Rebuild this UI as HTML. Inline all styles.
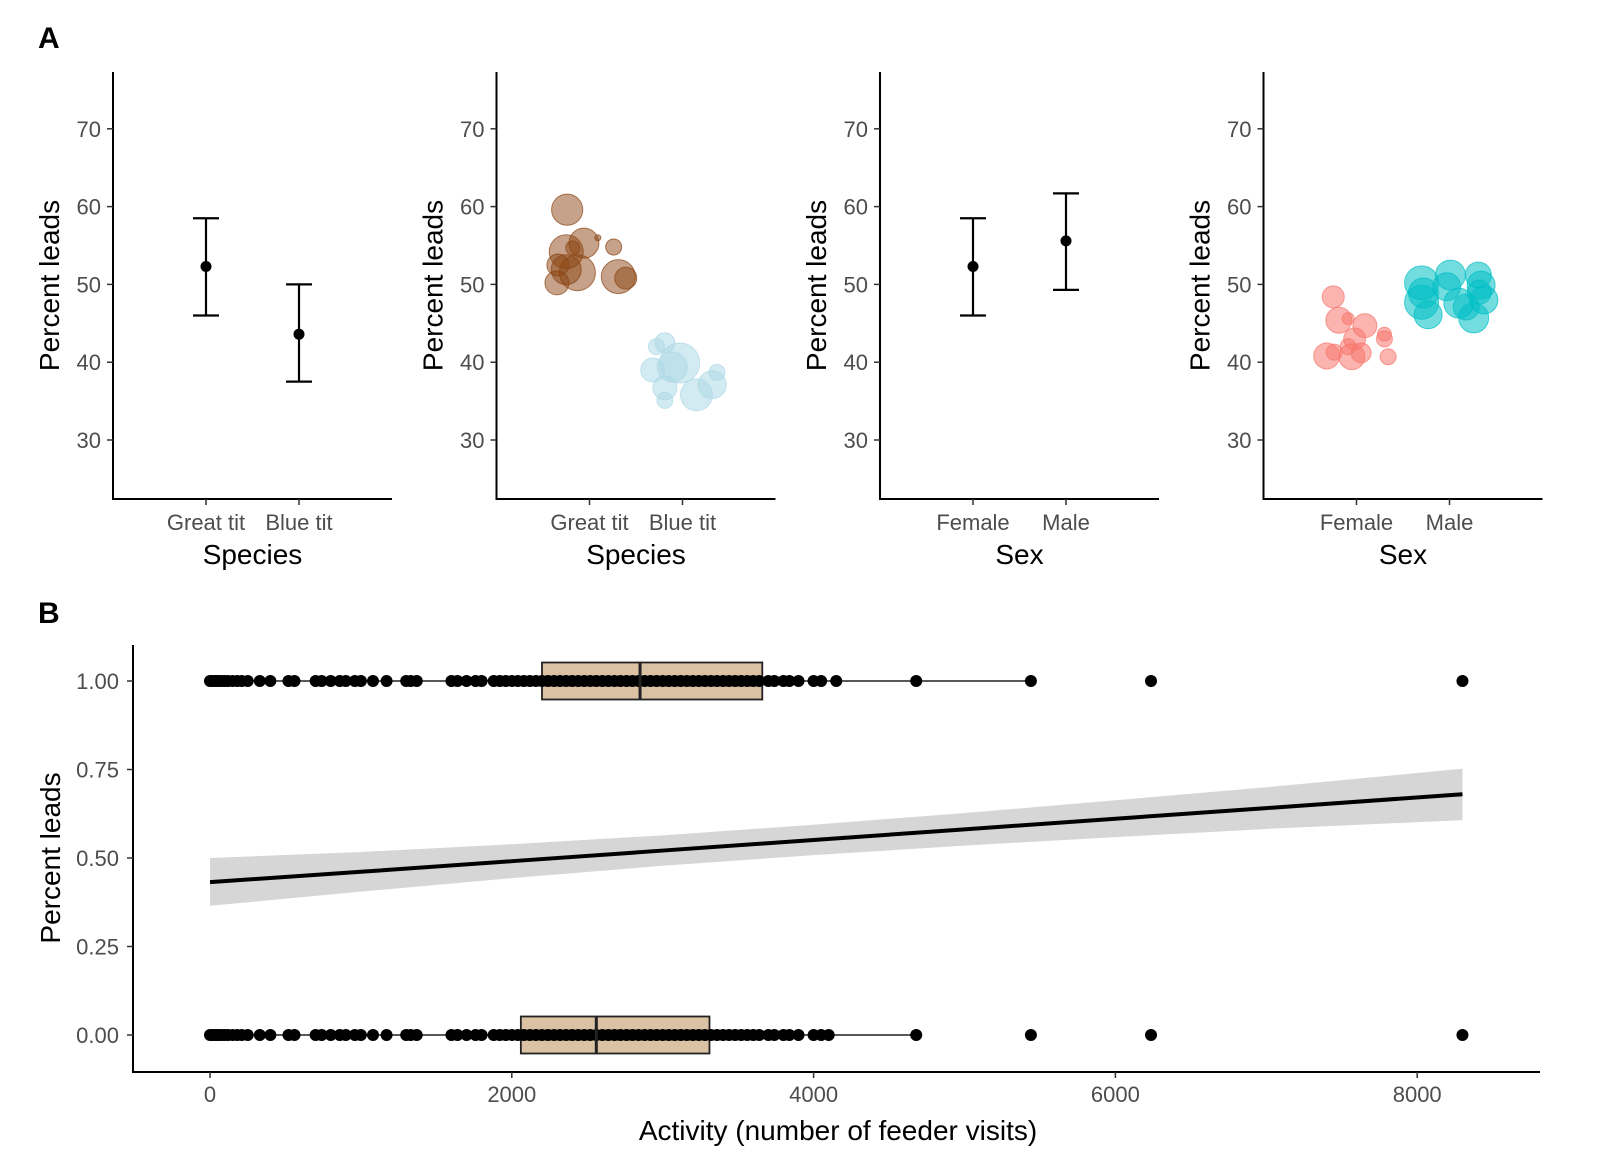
<!DOCTYPE html>
<html><head><meta charset="utf-8"><style>
body{margin:0;background:#fff}
svg{display:block;font-family:"Liberation Sans",sans-serif}
</style></head><body>
<svg id="c" width="1598" height="1166" viewBox="0 0 1598 1166">
<text x="38" y="48" font-size="30" font-weight="bold">A</text>
<text x="38" y="623" font-size="30" font-weight="bold">B</text>
</svg>
<script>
// ---- Panel A data ----
const aTicks = [30,40,50,60,70];
const p1Cats = ["Great tit","Blue tit"];
const p1Mean = [52.3,43.6];
const p1Lo = [46.0,37.5];
const p1Hi = [58.5,50.0];
const p3Cats = ["Female","Male"];
const p3Mean = [52.3,55.6];
const p3Lo = [46.0,49.3];
const p3Hi = [58.5,61.7];
const gtY = [59.6,54.2,55.3,56.0,54.8,51.0,50.8,50.2,52.5,51.5,51.9,54.7];
const gtJ = [-0.24,-0.25,-0.06,0.09,0.26,0.31,0.39,-0.35,-0.34,-0.13,-0.25,-0.18];
const gtS = [15.6,17,15,3,8,17,11,12,11,18,15,7];
const btY = [42.5,39.9,39.0,36.7,35.1,35.8,37.1,38.7,39.4,42.0];
const btJ = [-0.19,-0.03,-0.32,-0.19,-0.19,0.15,0.32,0.37,-0.11,-0.28];
const btS = [10,20,12,12,8,16,14,8,15,8];
const fY = [48.4,45.4,45.6,44.7,43.0,43.6,43.0,40.7,40.8,41.3,40.7,41.2,42.0];
const fJ = [-0.25,-0.19,-0.09,0.09,-0.02,0.30,0.30,0.34,-0.32,-0.24,-0.05,0.05,-0.09];
const fS = [11,13,6,12,11,7,8,8,13,8,13,10,8];
const mY = [50.2,51.2,51.2,49.9,48.9,47.7,46.1,49.7,47.6,45.7,47.1,48.0,49.0];
const mJ = [-0.30,0.01,0.31,0.34,-0.28,-0.30,-0.23,-0.03,0.10,0.26,0.18,0.37,0.32];
const mS = [17,15,13,14,15,17,14,14,15,15,13,14,12];
// ---- Panel B data ----
const bXTicks = [0,2000,4000,6000,8000];
const bYTicks = [0,0.25,0.5,0.75,1];
const bYLabels = ["0.00","0.25","0.50","0.75","1.00"];
const lead1 = [0,15,30,45,60,80,100,120,150,180,210,250,330,400,520,560,700,740,800,860,900,960,1000,1080,1170,1300,1330,1370,1600,1640,1700,1760,1800,1880,1920,1960,2000,2040,2080,2120,2160,2200,2240,2280,2320,2360,2400,2440,2480,2520,2560,2600,2640,2680,2720,2760,2800,2840,2880,2920,2960,3000,3040,3080,3120,3160,3200,3240,3280,3320,3360,3400,3440,3480,3520,3560,3600,3640,3700,3740,3800,3840,3900,4000,4050,4150,4680,5440,6236,8300];
const box1 = [5440,2200,2850,3660,5440];
const lead0 = [0,15,30,45,60,80,100,120,150,180,210,250,330,400,520,560,700,740,800,860,900,960,1000,1080,1170,1300,1330,1370,1600,1640,1700,1760,1800,1880,1920,1960,2000,2040,2080,2120,2160,2200,2240,2280,2320,2360,2400,2440,2480,2520,2560,2600,2640,2680,2720,2760,2800,2840,2880,2920,2960,3000,3040,3080,3120,3160,3200,3240,3280,3320,3360,3400,3440,3480,3520,3560,3600,3640,3700,3740,3800,3840,3900,4000,4050,4100,4680,5440,6236,8300];
const box0 = [4680,2060,2560,3310,4680];
const fitX = [0,1000,2000,3000,4000,5000,6000,7000,8300];
const fitY = [0.432,0.461,0.491,0.521,0.551,0.581,0.611,0.641,0.680];
const fitLo = [0.365,0.405,0.443,0.478,0.508,0.535,0.559,0.582,0.607];
const fitHi = [0.500,0.517,0.539,0.564,0.594,0.627,0.663,0.700,0.752];

const NS="http://www.w3.org/2000/svg", svg=document.getElementById('c');
function mk(tag,at,parent){const e=document.createElementNS(NS,tag);for(const k in at)e.setAttribute(k,at[k]);(parent||svg).appendChild(e);return e;}

const aTop=72,aBot=499,pw=279;
const yA=v=>440-(v-30)*7.78;
function axesA(i,xlab,cats){
  const x0=113+i*383.5;
  const g=mk('g',{});
  
  
  const yl=mk('line',{x1:x0,y1:aTop,x2:x0,y2:aBot,stroke:'#000','stroke-width':2},g);
  
  
  const xl=mk('line',{x1:x0-1,y1:aBot,x2:x0+pw,y2:aBot,stroke:'#000','stroke-width':2},g);
  
  
  aTicks.forEach(t=>{
    mk('line',{x1:x0-6,x2:x0,y1:yA(t),y2:yA(t),stroke:'#333','stroke-width':1.5},g);
    const tx=mk('text',{x:x0-12,y:yA(t)+8,'text-anchor':'end','font-size':22,fill:'#4d4d4d'},g);
    tx.textContent=t;
    
    
  });
  cats.forEach((c,j)=>{
    const cx=x0+pw*(j+1)/3;
    mk('line',{x1:cx,x2:cx,y1:aBot,y2:aBot+6,stroke:'#333','stroke-width':1.5},g);
    const tx=mk('text',{x:cx,y:530,'text-anchor':'middle','font-size':22,fill:'#4d4d4d'},g);
    tx.textContent=c;
    
    
  });
  const xt=mk('text',{x:x0+pw/2,y:564,'text-anchor':'middle','font-size':28},g);
  xt.textContent=xlab;
  
  
  const yt=mk('text',{transform:`translate(${x0-54},${(aTop+aBot)/2}) rotate(-90)`,'text-anchor':'middle','font-size':28},g);
  yt.textContent='Percent leads';
  
  
  return {x0,g,cx:j=>x0+pw*(j+1)/3};
}
function errPanel(i,xlab,cats,mean,lo,hi){
  const a=axesA(i,xlab,cats);
  cats.forEach((c,j)=>{
    const cx=a.cx(j);
    const e=mk('path',{d:`M${cx-13},${yA(hi[j])}H${cx+13}M${cx},${yA(hi[j])}V${yA(lo[j])}M${cx-13},${yA(lo[j])}H${cx+13}`,stroke:'#000','stroke-width':2.2,fill:'none'},a.g);
    
    
    const p=mk('circle',{cx:cx,cy:yA(mean[j]),r:5.5,fill:'#000'},a.g);
    
    
  });
}
function bubblePanel(i,xlab,cats,groups){
  const a=axesA(i,xlab,cats);
  groups.forEach((gr,j)=>{
    const cx=a.cx(j);
    gr.y.forEach((v,k)=>{
      const c=mk('circle',{cx:cx+gr.j[k]*93,cy:yA(v),r:gr.s[k],fill:gr.col,'fill-opacity':gr.op,stroke:gr.col,'stroke-opacity':0.7,'stroke-width':1},a.g);
      
      
    });
  });
}
errPanel(0,'Species',p1Cats,p1Mean,p1Lo,p1Hi);
bubblePanel(1,'Species',p1Cats,[{y:gtY,j:gtJ,s:gtS,col:'#8B4513',op:0.5},{y:btY,j:btJ,s:btS,col:'#ADD8E6',op:0.55}]);
errPanel(2,'Sex',p3Cats,p3Mean,p3Lo,p3Hi);
bubblePanel(3,'Sex',p3Cats,[{y:fY,j:fJ,s:fS,col:'#F8766D',op:0.55},{y:mY,j:mJ,s:mS,col:'#00BFC4',op:0.55}]);

// ---- Panel B ----
const xB=v=>210+v*0.1509, yB=v=>1035-v*354;
const gB=mk('g',{});


let d='M'+fitX.map((x,k)=>xB(x)+','+yB(fitHi[k])).join('L');
d+='L'+fitX.slice().reverse().map((x,k)=>xB(x)+','+yB(fitLo[fitX.length-1-k])).join('L')+'Z';
const band=mk('path',{d:d,fill:'#d6d6d6'},gB);


const fl=mk('polyline',{points:fitX.map((x,k)=>xB(x)+','+yB(fitY[k])).join(' '),fill:'none',stroke:'#000','stroke-width':4},gB);


function boxRow(yv,b,pts,nm){
  const y=yB(yv);
  const wl=mk('line',{x1:xB(0),x2:xB(b[0]),y1:y,y2:y,stroke:'#222','stroke-width':1.5},gB);
  
  
  const r=mk('rect',{x:xB(b[1]),y:y-18.5,width:xB(b[3])-xB(b[1]),height:37,fill:'#dcc2a5',stroke:'#222','stroke-width':1.8},gB);
  
  
  pts.forEach(v=>{
    const c=mk('circle',{cx:xB(v),cy:y,r:6,fill:'#000'},gB);
    
    
  });
  const md=mk('line',{x1:xB(b[2]),x2:xB(b[2]),y1:y-18.5,y2:y+18.5,stroke:'#222','stroke-width':3},gB);
  
  
}
boxRow(1,box1,lead1,'leads-1');
boxRow(0,box0,lead0,'leads-0');
const byl=mk('line',{x1:133,y1:645,x2:133,y2:1073,stroke:'#000','stroke-width':2},gB);


const bxl=mk('line',{x1:132,y1:1072,x2:1540,y2:1072,stroke:'#000','stroke-width':2},gB);


bYTicks.forEach((t,k)=>{
  mk('line',{x1:127,x2:133,y1:yB(t),y2:yB(t),stroke:'#333','stroke-width':1.5},gB);
  const tx=mk('text',{x:119,y:yB(t)+8,'text-anchor':'end','font-size':22,fill:'#4d4d4d'},gB);
  tx.textContent=bYLabels[k];
  
  
});
bXTicks.forEach(t=>{
  mk('line',{x1:xB(t),x2:xB(t),y1:1072,y2:1078,stroke:'#333','stroke-width':1.5},gB);
  const tx=mk('text',{x:xB(t),y:1102,'text-anchor':'middle','font-size':22,fill:'#4d4d4d'},gB);
  tx.textContent=t;
  
  
});
const bxt=mk('text',{x:838,y:1140,'text-anchor':'middle','font-size':28},gB);
bxt.textContent='Activity (number of feeder visits)';


const byt=mk('text',{transform:'translate(60,858) rotate(-90)','text-anchor':'middle','font-size':28},gB);
byt.textContent='Percent leads';


</script>
</body></html>
